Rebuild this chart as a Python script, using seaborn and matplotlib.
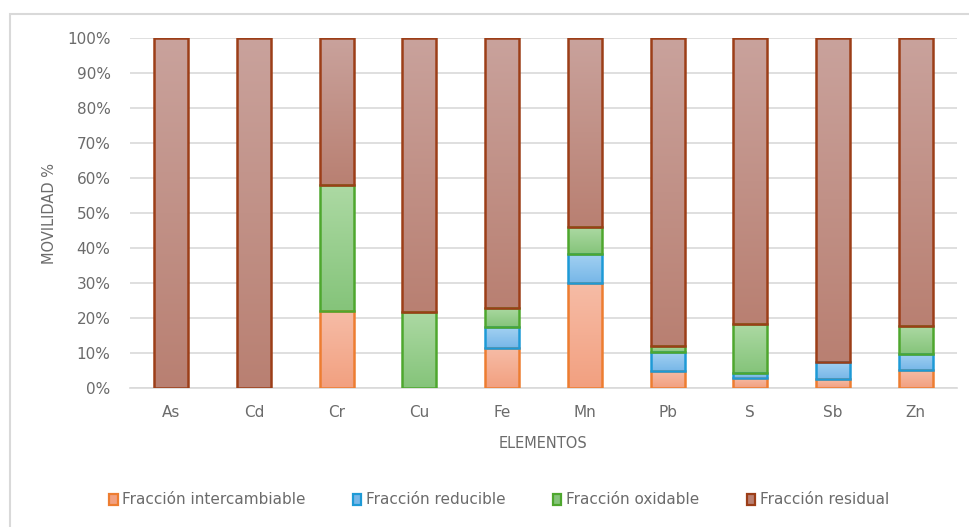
import numpy as np
import pandas as pd
import matplotlib
matplotlib.use("Agg")
import matplotlib.pyplot as plt
from matplotlib.patches import Patch, Rectangle
from matplotlib.colors import to_rgb
import seaborn as sns

elementos = ["As", "Cd", "Cr", "Cu", "Fe", "Mn", "Pb", "S", "Sb", "Zn"]
intercambiable = [0, 0, 22.0, 0, 11.4, 30.0, 4.9, 3.0, 2.5, 5.1]
reducible = [0, 0, 0, 0, 6.0, 8.3, 5.4, 1.4, 4.9, 4.6]
oxidable = [0, 0, 36.0, 21.7, 5.5, 7.7, 1.7, 13.9, 0, 8.0]
residual = [100 - a - b - c for a, b, c in zip(intercambiable, reducible, oxidable)]

series = ["Fracción intercambiable", "Fracción reducible", "Fracción oxidable", "Fracción residual"]
valores = [intercambiable, reducible, oxidable, residual]
# top colour, bottom colour, edge colour
grad_top = ["#f6bca6", "#a3d1f2", "#acd9a3", "#c9a29c"]
grad_bot = ["#f2a080", "#77b7e8", "#85c47a", "#b98072"]
bordes = ["#ed7d31", "#1e9ad6", "#4ea72e", "#9c3e18"]

sns.set_style("white")
plt.rcParams["font.family"] = ["DejaVu Sans"]
gris = "#6b6b6b"

fig = plt.figure(figsize=(9.69, 5.27), dpi=100)
ax = fig.add_axes([130 / 969, 1 - 388 / 527, 827 / 969, 350 / 527])

acumulado = np.zeros(len(elementos))
for nombre, vals, c0, c1, ec in zip(series, valores, grad_top, grad_bot, bordes):
    vals = np.array(vals, dtype=float)
    base = acumulado.copy()
    acumulado = acumulado + vals
    n0 = len(ax.patches)
    df = pd.DataFrame({"elemento": elementos, "valor": acumulado})
    sns.barplot(data=df, x="elemento", y="valor", color=c1, width=0.41,
                edgecolor=ec, linewidth=1.8, ax=ax, zorder=3)
    nuevos = ax.patches[n0:]
    grad = np.linspace(to_rgb(c0), to_rgb(c1), 64).reshape(64, 1, 3)
    for p, b, v in zip(nuevos, base, vals):
        if v <= 0:
            p.set_visible(False)
            continue
        p.set_y(b)
        p.set_height(v)
        p.set_facecolor("none")
        p.set_zorder(4)
        x0 = p.get_x()
        im = ax.imshow(grad, extent=(x0, x0 + p.get_width(), b, b + v),
                       aspect="auto", origin="upper", zorder=3,
                       interpolation="bilinear")
        im.set_clip_path(p)

ax.set_xlim(-0.5, len(elementos) - 0.5)
ax.set_ylim(0, 100)
ax.set_yticks(np.arange(0, 101, 10))
ax.set_yticklabels([f"{t}%" for t in range(0, 101, 10)])
ax.yaxis.grid(True, color="#d9d9d9", linewidth=1.2, zorder=0)
ax.set_axisbelow(True)
for s in ["top", "right", "left"]:
    ax.spines[s].set_visible(False)
ax.spines["bottom"].set_color("#d9d9d9")
ax.spines["bottom"].set_linewidth(1.2)
ax.tick_params(axis="both", length=0, labelsize=11, colors=gris)
ax.tick_params(axis="y", pad=14)
ax.tick_params(axis="x", pad=12)
ax.set_xlabel("ELEMENTOS", fontsize=10.5, color=gris, labelpad=12)
ax.set_ylabel("MOVILIDAD %", fontsize=10.5, color=gris, labelpad=7)

handles = [Patch(facecolor=c1, edgecolor=ec, linewidth=1.6, label=n)
           for n, c1, ec in zip(series, grad_bot, bordes)]
leg = fig.legend(handles=handles, loc="center", ncol=4, frameon=False,
                 bbox_to_anchor=(499 / 969, 1 - 500 / 527), fontsize=11,
                 handlelength=0.55, handleheight=0.75, handletextpad=0.3,
                 columnspacing=3.1)
for t in leg.get_texts():
    t.set_color(gris)

fig.patches.append(Rectangle((10 / 969, -0.1), 2, 1 - 14 / 527 + 0.1,
                             transform=fig.transFigure, fill=False,
                             edgecolor="#d9d9d9", linewidth=1.5))

fig.savefig("out.png", dpi=100)
